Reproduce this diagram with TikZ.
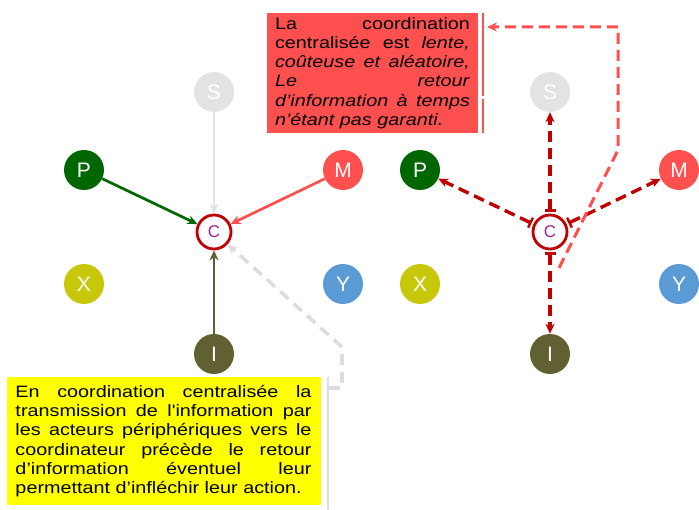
\documentclass[tikz,border=0pt]{standalone}
\usepackage{fontspec}
\setmainfont{Liberation Sans}
\newfontfamily\notefont[FakeStretch=1.2]{Liberation Sans}
\usetikzlibrary{arrows.meta}

\definecolor{sgrey}{HTML}{E3E3E3}
\definecolor{pgreen}{HTML}{006600}
\definecolor{mred}{HTML}{FF5050}
\definecolor{xolive}{HTML}{C8C80A}
\definecolor{yblue}{HTML}{5B9BD5}
\definecolor{iolive}{HTML}{606033}
\definecolor{cred}{HTML}{C00000}
\definecolor{cletter}{HTML}{9A2A8A}
\definecolor{dashgrey}{HTML}{DDDDDD}
\definecolor{noteyellow}{HTML}{FFFF00}

\newcommand{\jline}[1]{\makebox[\hsize][s]{\spaceskip=0.28em plus 1fil\relax #1}\\}

\begin{document}
\begin{tikzpicture}[x=1pt,y=-1pt,
  actor/.style={circle,minimum size=40pt,inner sep=0pt,text=white,font=\fontsize{21}{21}\selectfont},
  hub/.style={circle,draw=cred,line width=2.8pt,fill=white,minimum size=34pt,inner sep=0pt,text=cletter,font=\fontsize{17}{17}\selectfont},
  flow/.style={line width=2.7pt,-{Stealth[length=10pt,width=9pt]}},
  order/.style={draw=cred,line width=3.4pt,dash pattern=on 11pt off 6pt,{Bar[width=11pt,line width=2.4pt,sep=2pt]}-{Stealth[length=10pt,width=9pt]}},
  note/.style={inner xsep=8pt,inner ysep=0pt,text=black,align=left,font=\notefont\fontsize{16.5}{19.3}\selectfont}]
\useasboundingbox (0,0) rectangle (699,510);
% centralised, information going up
\node[actor,fill=sgrey] (s1) at (214,92) {S};
\node[actor,fill=pgreen] (p1) at (84,170) {P};
\node[actor,fill=mred] (m1) at (343,170) {M};
\node[hub] (c1) at (214,232) {C};
\node[actor,fill=xolive] (x1) at (84,284) {X};
\node[actor,fill=yblue] (y1) at (343,284) {Y};
\node[actor,fill=iolive] (i1) at (214,354) {I};
\draw [flow,sgrey] (s1) -- (c1);
\draw [flow,pgreen] (p1) -- (c1);
\draw [flow,mred] (m1) -- (c1);
\draw [flow,iolive] (i1) -- (c1);
% centralised, information coming back
\node[actor,fill=sgrey] (s2) at (550,92) {S};
\node[actor,fill=pgreen] (p2) at (420,170) {P};
\node[actor,fill=mred] (m2) at (679,170) {M};
\node[hub] (c2) at (550,232) {C};
\node[actor,fill=xolive] (x2) at (420,284) {X};
\node[actor,fill=yblue] (y2) at (679,284) {Y};
\node[actor,fill=iolive] (i2) at (550,354) {I};
\draw [order] (c2) -- (s2);
\draw [order] (c2) -- (p2);
\draw [order] (c2) -- (m2);
\draw [order] (c2) -- (i2);
% notes
\node[note,fill=mred,text width=195pt,minimum height=120pt] (rednote) at (372.5,73) {%
\jline{La coordination}
\jline{centralisée est \textit{lente,}}
\jline{\textit{coûteuse et aléatoire,}}
\jline{\textit{Le retour}}
\jline{\textit{d’information à temps}}
\textit{n’étant pas garanti.}};
\node[note,fill=noteyellow,inner xsep=9pt,text width=296pt,minimum height=128pt] (yellownote) at (163.5,441) {%
\jline{En coordination centralisée la}
\jline{transmission de l'information par}
\jline{les acteurs périphériques vers le}
\jline{coordinateur précède le retour}
\jline{d’information éventuel leur}
permettant d’infléchir leur action.};
\draw [mred,line width=2.4pt] ([xshift=5pt]rednote.north east) -- ([xshift=5pt,yshift=-83pt]rednote.north east);
\draw [mred,line width=2.4pt] ([xshift=5pt,yshift=-86pt]rednote.north east) -- ([xshift=5pt]rednote.south east);
\draw [dashgrey,line width=2.4pt] ([xshift=7pt]yellownote.north east) -- ([xshift=7pt,yshift=-5pt]yellownote.south east);
\coordinate (rfoot) at (559,268);
\coordinate (rtip) at (487,27);
\coordinate (gfoot) at (329,388);
\draw [mred,line width=3pt,dash pattern=on 11pt off 6pt,-{Stealth[length=10pt,width=9pt]}] (rfoot) -- (618,150) -- (618,27) -- (rtip);
\draw [dashgrey,line width=3.6pt,dash pattern=on 11pt off 7pt,-{Stealth[length=10pt,width=9pt]}] (gfoot) -- (342,388) -- (342,347) -- (c1);
\end{tikzpicture}
\end{document}
